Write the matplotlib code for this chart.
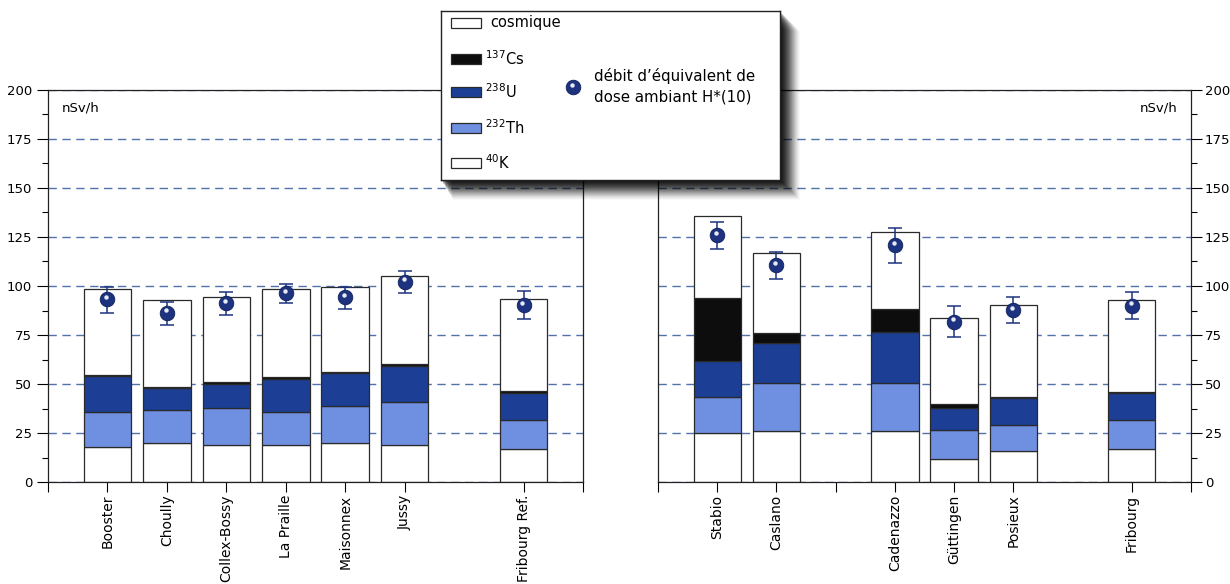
import matplotlib
matplotlib.use("Agg")
import matplotlib.pyplot as plt
import matplotlib.transforms as mtransforms
from matplotlib.patches import Rectangle
import numpy as np

# ---- data (nSv/h) ----
left_sites = ["Booster", "Choully", "Collex-Bossy", "La Praille", "Maisonnex", "Jussy", "Fribourg Ref."]
left_pos = [1, 2, 3, 4, 5, 6, 8]
left_k40 = [18.0, 19.7, 19.0, 19.0, 20.0, 19.0, 17.0]
left_th232 = [17.7, 17.0, 18.8, 16.7, 18.8, 21.8, 14.6]
left_u238 = [18.3, 11.3, 12.2, 17.0, 16.7, 18.4, 14.0]
left_cs137 = [0.5, 0.5, 0.8, 1.0, 0.5, 0.8, 0.6]
left_cosmic = [44.0, 44.4, 43.6, 44.6, 43.7, 45.0, 47.0]
left_dose = [93.4, 86.4, 91.3, 96.3, 94.2, 102.2, 90.3]
left_dose_lo = [86.0, 80.0, 85.2, 91.5, 88.4, 96.3, 83.3]
left_dose_hi = [99.6, 92.0, 97.1, 101.0, 99.6, 107.8, 97.3]

right_sites = ["Stabio", "Caslano", "Cadenazzo", "Güttingen", "Posieux", "Fribourg"]
right_pos = [1, 2, 4, 5, 6, 8]
right_k40 = [24.8, 25.9, 25.9, 11.9, 15.7, 16.7]
right_th232 = [18.7, 24.5, 24.5, 14.6, 13.5, 14.9]
right_u238 = [18.4, 20.4, 26.3, 11.1, 13.5, 13.7]
right_cs137 = [31.8, 5.4, 11.4, 2.2, 0.8, 0.8]
right_cosmic = [42.2, 40.8, 39.6, 43.7, 46.8, 46.8]
right_dose = [126.0, 110.7, 120.9, 81.8, 87.8, 90.0]
right_dose_lo = [118.9, 103.6, 111.9, 73.8, 81.0, 83.0]
right_dose_hi = [132.5, 117.5, 129.7, 89.6, 94.5, 96.8]

tick_pos = [0, 1, 2, 3, 4, 5, 6, 8, 9]
y_ticks = [0, 25, 50, 75, 100, 125, 150, 175, 200]

# ---- style ----
C_WHITE = "white"
C_CS = "#0d0d0d"
C_U = "#1c3f95"
C_TH = "#6f8fe0"
C_DOT = "#1d3380"
C_GRID = "#5472aa"
C_EDGE = "#2a2a2a"
layer_colors = [C_WHITE, C_TH, C_U, C_CS, C_WHITE]

plt.rcParams["font.family"] = ["DejaVu Sans"]
plt.rcParams["font.size"] = 9.5

fig = plt.figure(figsize=(12.3, 5.84), dpi=100)
W, H = 1230, 584


def px_axes(x0, y0, x1, y1):
    return fig.add_axes([x0 / W, 1 - y1 / H, (x1 - x0) / W, (y1 - y0) / H])


def draw_panel(ax, pos, layers, dose, lo, hi, sites, right=False):
    pos = np.array(pos, dtype=float)
    bottom = np.zeros(len(pos))
    for vals, color in zip(layers, layer_colors):
        vals = np.array(vals)
        ax.bar(pos, vals, bottom=bottom, width=0.8, color=color,
               edgecolor=C_EDGE, linewidth=0.9, zorder=2)
        bottom += vals
    dose = np.array(dose)
    ax.errorbar(pos, dose, yerr=[dose - np.array(lo), np.array(hi) - dose],
                fmt="none", ecolor=C_DOT, elinewidth=1.1, capsize=5,
                capthick=1.1, zorder=3)
    ax.plot(pos, dose, "o", ms=10.5, color=C_DOT, mec="#0f1f5a", mew=0.6, zorder=4)
    hl = mtransforms.offset_copy(ax.transData, fig=fig, x=-0.8, y=1.6, units="points")
    ax.plot(pos, dose, "o", ms=3.2, color="white", mew=0, alpha=0.9,
            transform=hl, zorder=5)

    ax.set_xlim(0, 9)
    ax.set_ylim(0, 200)
    ax.set_yticks(y_ticks)
    ax.set_yticks(np.arange(12.5, 200, 25), minor=True)
    ax.yaxis.grid(True, which="major", ls=(0, (6, 4)), color=C_GRID, lw=1.0)
    ax.set_axisbelow(True)

    labels = dict(zip(pos.astype(int), sites))
    ax.set_xticks(tick_pos)
    ax.set_xticklabels([labels.get(p, "") for p in tick_pos], rotation=90,
                       fontsize=10, va="top")
    ax.tick_params(axis="x", direction="out", length=7, width=0.8, pad=2)
    ax.tick_params(axis="y", which="major", direction="out", length=8,
                   width=0.8, pad=2 if right else 3.5)
    ax.tick_params(axis="y", which="minor", direction="out", length=4, width=0.8)
    for sp in ax.spines.values():
        sp.set_linewidth(0.9)
        sp.set_color("#222222")
    if right:
        ax.yaxis.tick_right()
        ax.yaxis.set_label_position("right")
        ax.text(0.975, 0.955, "nSv/h", transform=ax.transAxes, ha="right",
                va="center", fontsize=9.5)
    else:
        ax.text(0.025, 0.955, "nSv/h", transform=ax.transAxes, ha="left",
                va="center", fontsize=9.5)


ax_l = px_axes(48, 90, 583, 482)
draw_panel(ax_l, left_pos,
           [left_k40, left_th232, left_u238, left_cs137, left_cosmic],
           left_dose, left_dose_lo, left_dose_hi, left_sites)

ax_r = px_axes(658, 90, 1191, 482)
draw_panel(ax_r, right_pos,
           [right_k40, right_th232, right_u238, right_cs137, right_cosmic],
           right_dose, right_dose_lo, right_dose_hi, right_sites, right=True)

# ---- legend box with soft shadow ----
lx0, ly0, lx1, ly1 = 441, 11, 780, 180
n_sh = 20
for i in range(n_sh, 0, -1):
    sh = fig.add_axes([(lx0 + i * 0.6) / W, 1 - (ly1 + i) / H,
                       (lx1 - lx0 + i * 0.4) / W, (ly1 - ly0) / H])
    sh.set_axis_off()
    sh.add_patch(Rectangle((0, 0), 1, 1, transform=sh.transAxes,
                           color="black", alpha=0.025 + 0.009 * (n_sh - i), lw=0))

lax = px_axes(lx0, ly0, lx1, ly1)
lax.set_xlim(lx0, lx1)
lax.set_ylim(ly1, ly0)
lax.set_xticks([])
lax.set_yticks([])
lax.set_facecolor("white")
for sp in lax.spines.values():
    sp.set_linewidth(1.0)
    sp.set_color("#222222")

legend_labels = ["cosmique", r"$^{137}$Cs", r"$^{238}$U", r"$^{232}$Th", r"$^{40}$K"]
legend_colors = [C_WHITE, C_CS, C_U, C_TH, C_WHITE]
legend_y = [23, 59, 92, 128, 163]
for lab, col, yy in zip(legend_labels, legend_colors, legend_y):
    lax.add_patch(Rectangle((451, yy - 5), 30, 10, facecolor=col,
                            edgecolor=C_EDGE, lw=0.9))
    lax.text(490 if lab == "cosmique" else 485, yy, lab, va="center",
             ha="left", fontsize=10.5)

lax.plot([573], [87], "o", ms=10.5, color=C_DOT, mec="#0f1f5a", mew=0.6)
lax.plot([572.2], [84.6], "o", ms=3.2, color="white", mew=0, alpha=0.9)
lax.text(594, 86, "débit d’équivalent de\ndose ambiant H*(10)", va="center",
         ha="left", fontsize=10.8, linespacing=1.45)

fig.savefig("out.png", dpi=100)
